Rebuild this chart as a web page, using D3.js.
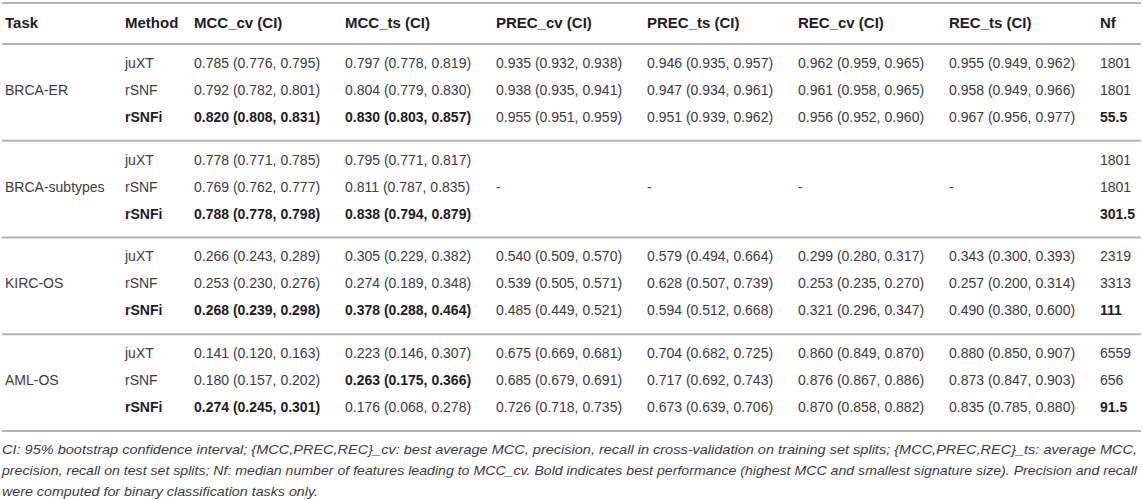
<!DOCTYPE html>
<html>
<head>
<meta charset="utf-8">
<script src="https://cdn.jsdelivr.net/npm/d3@7"></script>
<style>
body { margin: 0; background: #fff; }
svg { font-family: "Liberation Sans", Arial, sans-serif; }
</style>
</head>
<body>
<svg id="table"></svg>
<script>
// table content
var tasks = ["BRCA-ER", "BRCA-subtypes", "KIRC-OS", "AML-OS"];
var methods = ["juXT", "rSNF", "rSNFi"];
var headers = ["MCC_cv (CI)", "MCC_ts (CI)", "PREC_cv (CI)", "PREC_ts (CI)", "REC_cv (CI)", "REC_ts (CI)", "Nf"];

// one entry per task x method row: [value, lo, hi]
var mccCv = [
  [0.785, 0.776, 0.795], [0.792, 0.782, 0.801], [0.820, 0.808, 0.831],
  [0.778, 0.771, 0.785], [0.769, 0.762, 0.777], [0.788, 0.778, 0.798],
  [0.266, 0.243, 0.289], [0.253, 0.230, 0.276], [0.268, 0.239, 0.298],
  [0.141, 0.120, 0.163], [0.180, 0.157, 0.202], [0.274, 0.245, 0.301]
];
var mccTs = [
  [0.797, 0.778, 0.819], [0.804, 0.779, 0.830], [0.830, 0.803, 0.857],
  [0.795, 0.771, 0.817], [0.811, 0.787, 0.835], [0.838, 0.794, 0.879],
  [0.305, 0.229, 0.382], [0.274, 0.189, 0.348], [0.378, 0.288, 0.464],
  [0.223, 0.146, 0.307], [0.263, 0.175, 0.366], [0.176, 0.068, 0.278]
];
var precCv = [
  [0.935, 0.932, 0.938], [0.938, 0.935, 0.941], [0.955, 0.951, 0.959],
  null, "-", null,
  [0.540, 0.509, 0.570], [0.539, 0.505, 0.571], [0.485, 0.449, 0.521],
  [0.675, 0.669, 0.681], [0.685, 0.679, 0.691], [0.726, 0.718, 0.735]
];
var precTs = [
  [0.946, 0.935, 0.957], [0.947, 0.934, 0.961], [0.951, 0.939, 0.962],
  null, "-", null,
  [0.579, 0.494, 0.664], [0.628, 0.507, 0.739], [0.594, 0.512, 0.668],
  [0.704, 0.682, 0.725], [0.717, 0.692, 0.743], [0.673, 0.639, 0.706]
];
var recCv = [
  [0.962, 0.959, 0.965], [0.961, 0.958, 0.965], [0.956, 0.952, 0.960],
  null, "-", null,
  [0.299, 0.280, 0.317], [0.253, 0.235, 0.270], [0.321, 0.296, 0.347],
  [0.860, 0.849, 0.870], [0.876, 0.867, 0.886], [0.870, 0.858, 0.882]
];
var recTs = [
  [0.955, 0.949, 0.962], [0.958, 0.949, 0.966], [0.967, 0.956, 0.977],
  null, "-", null,
  [0.343, 0.300, 0.393], [0.257, 0.200, 0.314], [0.490, 0.380, 0.600],
  [0.880, 0.850, 0.907], [0.873, 0.847, 0.903], [0.835, 0.785, 0.880]
];
var nf = [1801, 1801, 55.5, 1801, 1801, 301.5, 2319, 3313, 111, 6559, 656, 91.5];

// bold cells as "row:column"
var boldCells = ["2:0", "2:1", "2:6", "5:0", "5:1", "5:6", "8:0", "8:1", "8:6", "11:0", "10:1", "11:6"];

var footnote = [
  "CI: 95% bootstrap confidence interval; {MCC,PREC,REC}_cv: best average MCC, precision, recall in cross-validation on training set splits; {MCC,PREC,REC}_ts: average MCC,",
  "precision, recall on test set splits; Nf: median number of features leading to MCC_cv. Bold indicates best performance (highest MCC and smallest signature size). Precision and recall",
  "were computed for binary classification tasks only."
];

var W = 1143, H = 499;
var svg = d3.select("#table").attr("width", W).attr("height", H);

var fmt = d3.format(".3f");
var cellText = function(c)
{
  if (c === null) return "";
  if (typeof c === "string") return c;
  return fmt(c[0]) + " (" + fmt(c[1]) + ", " + fmt(c[2]) + ")";
};
var columns = [mccCv, mccTs, precCv, precTs, recCv, recTs, nf];

var xCol = d3.scaleBand()
  .domain(d3.range(headers.length))
  .range([194, 194 + 151 * headers.length])
  .align(0);
var xTask = 5, xMethod = 125;

var yGroup = d3.scaleBand()
  .domain(tasks)
  .range([44, 431]);
var yRow = d3.scalePoint()
  .domain(methods)
  .range([19, 73]);

var lineColor = "#b4b4b4";
var bodyColor = "#3c3c3c";
var headColor = "#1e1e1e";

// rules
var rules = [3, 44].concat(tasks.slice(1).map(function(t) { return yGroup(t) })).concat([431]);
svg.selectAll("line.rule")
  .data(rules)
  .enter()
  .append("line")
  .attr("class", "rule")
  .attr("x1", 2)
  .attr("x2", W - 2)
  .attr("y1", function(d) { return d })
  .attr("y2", function(d) { return d })
  .attr("stroke", lineColor)
  .attr("stroke-width", 2);

// header
var head = svg.append("g")
  .attr("font-size", 15)
  .attr("font-weight", "bold")
  .attr("fill", headColor);
head.append("text").attr("x", xTask).attr("y", 28).text("Task");
head.append("text").attr("x", xMethod).attr("y", 28).text("Method");
head.selectAll("text.h")
  .data(headers)
  .enter()
  .append("text")
  .attr("class", "h")
  .attr("x", function(d, i) { return xCol(i) })
  .attr("y", 28)
  .text(function(d) { return d });

// body
var body = svg.append("g")
  .attr("font-size", 14)
  .attr("fill", bodyColor);

var groups = body.selectAll("g.task")
  .data(tasks)
  .enter()
  .append("g")
  .attr("class", "task")
  .attr("transform", function(d) { return "translate(0," + yGroup(d) + ")" });

groups.append("text")
  .attr("x", xTask)
  .attr("y", yRow(methods[1]))
  .attr("dy", "0.35em")
  .text(function(d) { return d });

groups.each(function(task, ti)
{
  var g = d3.select(this);
  var rows = g.selectAll("g.row")
    .data(methods)
    .enter()
    .append("g")
    .attr("class", "row")
    .attr("transform", function(m) { return "translate(0," + yRow(m) + ")" });

  rows.append("text")
    .attr("x", xMethod)
    .attr("dy", "0.35em")
    .attr("font-weight", function(m) { return m === "rSNFi" ? "bold" : null })
    .attr("fill", function(m) { return m === "rSNFi" ? headColor : null })
    .text(function(m) { return m });

  rows.each(function(m, mi)
  {
    var r = ti * methods.length + mi;
    d3.select(this).selectAll("text.v")
      .data(columns)
      .enter()
      .append("text")
      .attr("class", "v")
      .attr("x", function(col, ci) { return xCol(ci) })
      .attr("dy", "0.35em")
      .attr("font-weight", function(col, ci) { return boldCells.indexOf(r + ":" + ci) >= 0 ? "bold" : null })
      .attr("fill", function(col, ci) { return boldCells.indexOf(r + ":" + ci) >= 0 ? headColor : null })
      .text(function(col, ci) { return ci === 6 ? col[r] : cellText(col[r]) });
  });
});

// footnote
var noteWidths = [1135, 1135, 316];
svg.append("g")
  .attr("font-size", 13.5)
  .attr("font-style", "italic")
  .attr("fill", bodyColor)
  .selectAll("text")
  .data(footnote)
  .enter()
  .append("text")
  .attr("x", 2)
  .attr("y", function(d, i) { return 454 + i * 21 })
  .attr("textLength", function(d, i) { return noteWidths[i] })
  .attr("lengthAdjust", "spacingAndGlyphs")
  .text(function(d) { return d });
</script>
</body>
</html>
